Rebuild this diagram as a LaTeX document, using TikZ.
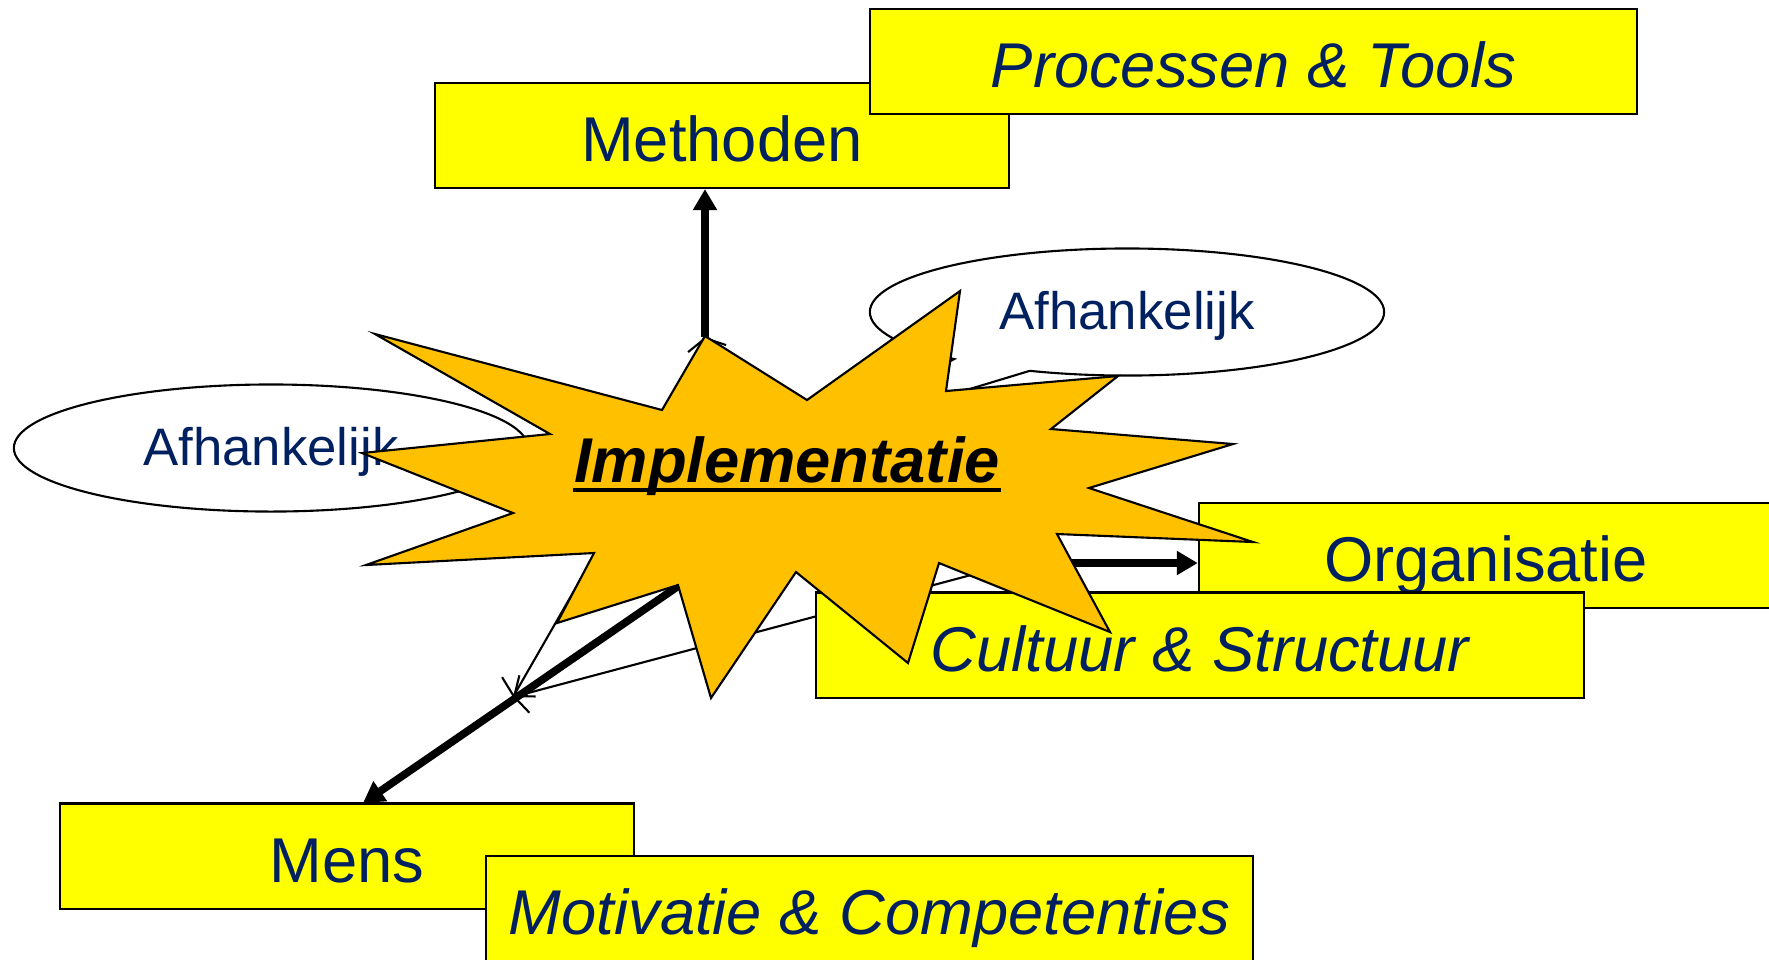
\documentclass[tikz,border=0pt]{standalone}
\usepackage{fontspec}
\setmainfont{Liberation Sans}
\usetikzlibrary{arrows.meta,shapes.callouts}
\definecolor{kader}{RGB}{255,255,0}
\definecolor{ster}{RGB}{255,192,0}
\definecolor{tekst}{RGB}{0,32,96}
\tikzset{
  blok/.style={draw,fill=kader,line width=0.6pt,minimum width=5.74cm,minimum height=1.05cm,
    inner sep=0pt,text height=0.52cm,text depth=0pt,text=tekst,font=\fontsize{18}{21}\selectfont},
  breedblok/.style={blok,minimum width=7.67cm,font=\fontsize{18}{21}\selectfont\itshape},
  wolk/.style={ellipse callout,draw,fill=white,line width=0.6pt,minimum width=5.14cm,
    minimum height=1.27cm,inner sep=0pt,text height=0.34cm,text depth=0pt,
    callout pointer arc=20,text=tekst,font=\fontsize{15}{18}\selectfont},
  dik/.style={line width=2.2pt,-{Triangle[length=0.21cm,width=0.23cm]}},
  dun/.style={line width=0.6pt,-{Straight Barb[length=3pt,width=11pt]}}
}
\begin{document}
\begin{tikzpicture}[x=0.01cm,y=-0.01cm]
\useasboundingbox (0,0) rectangle (1769,959);
\node[blok] (meth) at (722,135.5) {Methoden};
\node[breedblok] (proc) at (1253.5,61.5) {Processen \& Tools};
\coordinate (wijs1) at (650,500);
\coordinate (wijs2) at (798,441);
\node[wolk,callout absolute pointer={(wijs1)}] (afh1) at (271,448) {Afhankelijk};
\node[wolk,callout absolute pointer={(wijs2)}] (afh2) at (1127,312) {Afhankelijk};
% punten in de ster
\coordinate (top) at (705,337);
\coordinate (a0) at (735,500);
\coordinate (b0) at (644,469);
\coordinate (c0) at (1065,550);
\coordinate (raak) at (513,697);
\coordinate (m0) at (690,578);
\coordinate (m1) at (363,803);
\coordinate (o0) at (1060,563);
\draw[dun] (a0)--(top);
\draw[dun] (b0)--(raak);
\draw[dun] (c0)--(raak);
\draw[dik] (top)--(top|-meth.south);
\draw[dik] (m0)--(m1);
\node[blok] (org) at (1486,555.5) {Organisatie};
\draw[dik] (o0)--(o0-|org.west);
\node[breedblok] (cult) at (1200,645) {Cultuur \& Structuur};
% de ster
\draw[fill=ster,line width=0.6pt] (705,336)--(807,400)--(960,291)--(946,391)--(1118,376)
  --(1051,429)--(1233,444)--(1089,488)--(1253,542)--(1057,534)--(1110,632)--(939,563)
  --(908,663)--(796,572)--(711,698)--(678,585)--(557,623)--(594,553)--(366,565)
  --(513,513)--(362,453)--(550,434)--(375,334)--(662,410)--cycle;
\node[inner sep=0pt,anchor=base,font=\fontsize{18}{21}\selectfont\bfseries\itshape] (impl) at (787,482) {Implementatie};
\draw[line width=1.1pt] ([shift={(0,8)}]impl.base west)--([shift={(0,8)}]impl.base east);
\node[blok] (mens) at (347,856) {Mens};
\node[breedblok] (motiv) at (869.5,908.5) {Motivatie \& Competenties};
\end{tikzpicture}
\end{document}
